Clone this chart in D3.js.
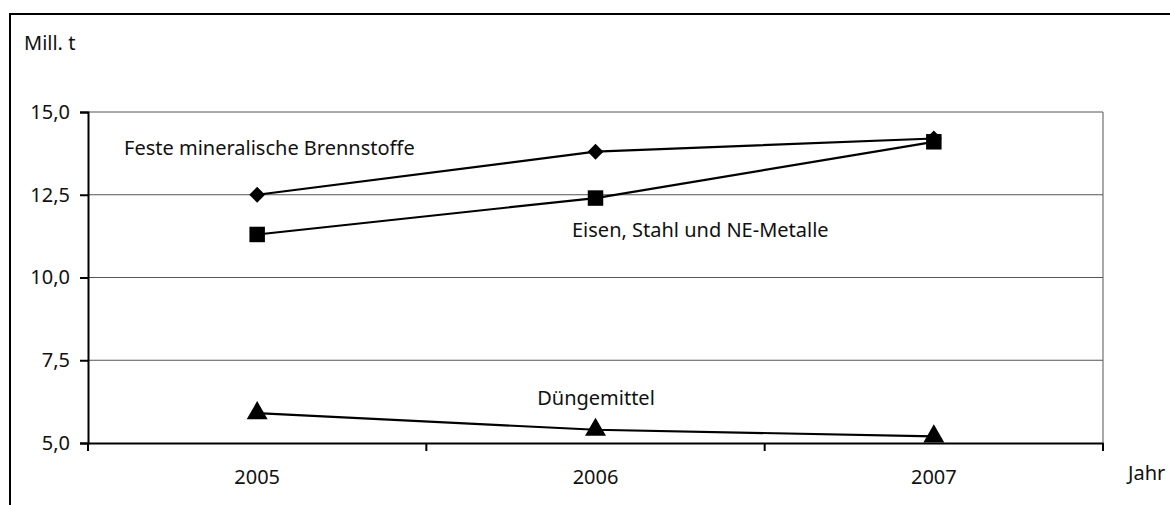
<!DOCTYPE html>
<html>
<head>
<meta charset="utf-8">
<script src="https://cdn.jsdelivr.net/npm/d3@7"></script>
<style>
	body { margin: 0; background: #fff; }
	text { font-family: "Noto Sans", sans-serif; fill: #111; }
</style>
</head>
<body>
<script>
const years = ['2005', '2006', '2007'];
const brennstoffe = [12.5, 13.8, 14.2];
const eisenStahl = [11.3, 12.4, 14.1];
const duenger = [5.9, 5.4, 5.2];
const yTicks = [5, 7.5, 10, 12.5, 15];

const seriesNames = ['Feste mineralische Brennstoffe', 'Eisen, Stahl und NE-Metalle', 'Düngemittel'];
const seriesValues = [brennstoffe, eisenStahl, duenger];

const width = 1170, height = 505,
	margin = {top: 112, right: 67, bottom: 62, left: 88},
	fontSize = '20px';

let svg = d3.select('body').append('svg')
	.attr('width', width)
	.attr('height', height);

// outer frame (only top and left visible in the picture)
svg.append('path')
	.attr('d', 'M10,' + height + 'V14H' + width)
	.attr('fill', 'none')
	.attr('stroke', '#000')
	.attr('stroke-width', 2);

let x = d3.scaleBand()
	.domain(years)
	.range([margin.left, width - margin.right]);

let y = d3.scaleLinear()
	.domain([5, 15])
	.range([height - margin.bottom, margin.top]);

// grid lines
svg.append('g')
	.selectAll('line')
	.data(yTicks.filter(d => d > 5))
	.enter().append('line')
	.attr('x1', margin.left)
	.attr('x2', width - margin.right)
	.attr('y1', d => y(d))
	.attr('y2', d => y(d))
	.attr('stroke', '#555')
	.attr('stroke-width', 1);

// right border of plot area
svg.append('line')
	.attr('x1', width - margin.right)
	.attr('x2', width - margin.right)
	.attr('y1', margin.top)
	.attr('y2', height - margin.bottom)
	.attr('stroke', '#555')
	.attr('stroke-width', 1);

// y axis
let yAxis = svg.append('g')
	.attr('transform', 'translate(' + margin.left + ',0)')
	.call(d3.axisLeft(y)
		.tickValues(yTicks)
		.tickSize(8)
		.tickPadding(10)
		.tickFormat(d => d3.format('.1f')(d).replace('.', ',')));

// x axis, ticks between the categories
let xAxis = svg.append('g')
	.attr('transform', 'translate(0,' + (height - margin.bottom) + ')')
	.call(d3.axisBottom(x).tickSize(0).tickPadding(27));

xAxis.selectAll('.catTick')
	.data(d3.range(years.length + 1))
	.enter().append('line')
	.attr('class', 'catTick')
	.attr('x1', i => margin.left + i * x.step())
	.attr('x2', i => margin.left + i * x.step())
	.attr('y1', 0)
	.attr('y2', 8)
	.attr('stroke', '#000')
	.attr('stroke-width', 2);

[yAxis, xAxis].forEach(ax => {
	ax.select('.domain').attr('stroke', '#000').attr('stroke-width', 2);
	ax.selectAll('.tick line').attr('stroke', '#000').attr('stroke-width', 2);
	ax.selectAll('.tick text')
		.style('font-family', '"Noto Sans", sans-serif')
		.style('font-size', fontSize)
		.attr('fill', '#111');
});

// series lines and markers
let line = d3.line()
	.x((d, i) => x(years[i]) + x.bandwidth() / 2)
	.y(d => y(d));

const markers = [
	{type: d3.symbolSquare, size: 125, rotate: 45},
	{type: d3.symbolSquare, size: 240, rotate: 0},
	{type: d3.symbolTriangle, size: 190, rotate: 0}
];

seriesValues.forEach((vals, s) => {
	svg.append('path')
		.datum(vals)
		.attr('d', line)
		.attr('fill', 'none')
		.attr('stroke', '#000')
		.attr('stroke-width', 2.2);

	svg.append('g')
		.selectAll('path')
		.data(vals)
		.enter().append('path')
		.attr('transform', (d, i) => 'translate(' + (x(years[i]) + x.bandwidth() / 2) + ',' + y(d) + ') rotate(' + markers[s].rotate + ')')
		.attr('d', d3.symbol().type(markers[s].type).size(markers[s].size))
		.attr('fill', '#000');
});

// labels
const labelPos = [
	{x: 124, y: 155, anchor: 'start'},
	{x: 572, y: 237, anchor: 'start'},
	{x: 596, y: 405, anchor: 'middle'}
];

svg.append('g')
	.selectAll('text')
	.data(seriesNames)
	.enter().append('text')
	.attr('x', (d, i) => labelPos[i].x)
	.attr('y', (d, i) => labelPos[i].y)
	.attr('text-anchor', (d, i) => labelPos[i].anchor)
	.style('font-size', fontSize)
	.text(d => d);

svg.append('text')
	.attr('x', 24)
	.attr('y', 50)
	.style('font-size', fontSize)
	.text('Mill. t');

svg.append('text')
	.attr('x', 1128)
	.attr('y', 480)
	.style('font-size', fontSize)
	.text('Jahr');
</script>
</body>
</html>
